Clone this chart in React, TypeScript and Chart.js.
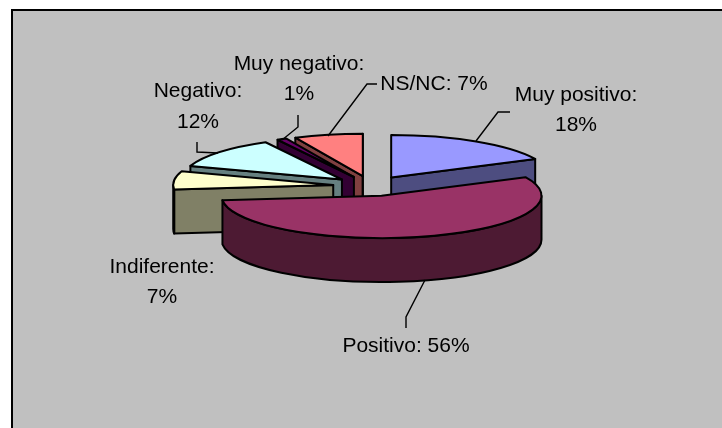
import React, { useEffect, useRef } from "react";
import { Chart, registerables } from "chart.js";

Chart.register(...registerables);

const categories = ["Muy positivo", "Positivo", "Indiferente", "Negativo", "Muy negativo", "NS/NC"];
const values = [18, 56, 7, 12, 1, 7];
const topColors = ["#9999FF", "#993366", "#FFFFCC", "#CCFFFF", "#660066", "#FF8080"];
const sideColors = ["#4D4D80", "#4D1A33", "#808066", "#668080", "#330033", "#804040"];

// Layout only (text placement and leader lines)
const labelBoxes = [
  { x: 576, ys: [95, 125], split: true, leader: [[510, 112], [498, 112], [476, 141]] },
  { x: 406, ys: [346], split: false, leader: [[425, 280], [406, 317], [406, 328]] },
  { x: 162, ys: [267, 297], split: true, leader: [] },
  { x: 198, ys: [91, 122], split: true, leader: [[197, 142], [197, 152], [218, 153]] },
  { x: 299, ys: [64, 94], split: true, leader: [[298, 115], [298, 127], [282, 140]] },
  { x: 434, ys: [84], split: false, leader: [[377, 84], [367, 84], [328, 136]] },
];
const paintOrder = [5, 4, 3, 2, 0, 1];
const TILT = 0.265;
const DEPTH = 44;
const EXPLODE = 38;
const RADIUS = 160;

const pie3d = {
  id: "pie3d",
  beforeDraw(chart: any) {
    const { ctx, width, height } = chart;
    ctx.save();
    ctx.fillStyle = "#FFFFFF";
    ctx.fillRect(0, 0, width, height);
    ctx.fillStyle = "#C0C0C0";
    ctx.fillRect(11, 9, width - 11, height - 9);
    ctx.strokeStyle = "#000000";
    ctx.lineWidth = 2;
    ctx.beginPath();
    ctx.moveTo(12, height);
    ctx.lineTo(12, 10);
    ctx.lineTo(width, 10);
    ctx.stroke();
    ctx.restore();
  },
  beforeDatasetDraw(chart: any) {
    const { ctx } = chart;
    const meta = chart.getDatasetMeta(0);
    ctx.save();
    ctx.lineWidth = 2;
    ctx.strokeStyle = "#000000";
    ctx.lineJoin = "round";
    paintOrder.forEach((i) => {
      const arc = meta.data[i];
      const { x, y, startAngle, endAngle, outerRadius } = arc.getProps(
        ["x", "y", "startAngle", "endAngle", "outerRadius"],
        true
      );
      const mid = (startAngle + endAngle) / 2;
      const r = outerRadius;
      const vx = x + Math.cos(mid) * EXPLODE;
      const vy = y + Math.sin(mid) * EXPLODE * TILT;
      const px = (a: number) => vx + r * Math.cos(a);
      const py = (a: number) => vy + r * Math.sin(a) * TILT;

      ctx.fillStyle = sideColors[i];
      const wall = (a: number) => {
        ctx.beginPath();
        ctx.moveTo(vx, vy);
        ctx.lineTo(px(a), py(a));
        ctx.lineTo(px(a), py(a) + DEPTH);
        ctx.lineTo(vx, vy + DEPTH);
        ctx.closePath();
        ctx.fill();
        ctx.stroke();
      };
      if (Math.cos(startAngle) < 0) wall(startAngle);
      if (Math.cos(endAngle) > 0) wall(endAngle);

      const from = Math.max(startAngle, 0);
      const to = Math.min(endAngle, Math.PI);
      if (to > from) {
        ctx.beginPath();
        ctx.ellipse(vx, vy, r, r * TILT, 0, from, to);
        ctx.lineTo(px(to), py(to) + DEPTH);
        ctx.ellipse(vx, vy + DEPTH, r, r * TILT, 0, to, from, true);
        ctx.closePath();
        ctx.fill();
        ctx.stroke();
      }

      // Top face: the library's own arc, moved out and squashed about the pie's centre
      ctx.save();
      ctx.translate(vx - x, vy);
      ctx.scale(1, TILT);
      ctx.translate(0, -y);
      arc.draw(ctx);
      ctx.restore();

      ctx.beginPath();
      ctx.moveTo(vx, vy);
      ctx.ellipse(vx, vy, r, r * TILT, 0, startAngle, endAngle);
      ctx.closePath();
      ctx.stroke();
    });
    ctx.restore();
    return false;
  },
  afterDraw(chart: any) {
    const { ctx } = chart;
    ctx.save();
    ctx.fillStyle = "#000000";
    ctx.strokeStyle = "#000000";
    ctx.lineWidth = 1.4;
    ctx.font = '21px "Liberation Sans", Arial, sans-serif';
    ctx.textAlign = "center";
    ctx.textBaseline = "middle";
    labelBoxes.forEach((box, i) => {
      const lines = box.split
        ? [`${categories[i]}:`, `${values[i]}%`]
        : [`${categories[i]}: ${values[i]}%`];
      lines.forEach((t, j) => ctx.fillText(t, box.x, box.ys[j]));
      if (box.leader.length) {
        ctx.beginPath();
        box.leader.forEach(([lx, ly], k) => (k ? ctx.lineTo(lx, ly) : ctx.moveTo(lx, ly)));
        ctx.stroke();
      }
    });
    ctx.restore();
  },
};

export default function App() {
  const ref = useRef<HTMLCanvasElement>(null);
  useEffect(() => {
    const chart = new Chart(ref.current as HTMLCanvasElement, {
      type: "pie",
      data: {
        labels: categories,
        datasets: [
          {
            data: values,
            backgroundColor: topColors,
            borderWidth: 0,
            radius: RADIUS,
          } as any,
        ],
      },
      options: {
        animation: false,
        responsive: false,
        layout: { padding: { left: 20, right: 0, top: 0, bottom: 56 } },
        plugins: { legend: { display: false }, tooltip: { enabled: false } },
      },
      plugins: [pie3d as any],
    });
    return () => chart.destroy();
  }, []);
  return (
    <canvas
      ref={ref}
      width={722}
      height={428}
      style={{ position: "absolute", left: 0, top: 0, width: 722, height: 428 }}
    />
  );
}
